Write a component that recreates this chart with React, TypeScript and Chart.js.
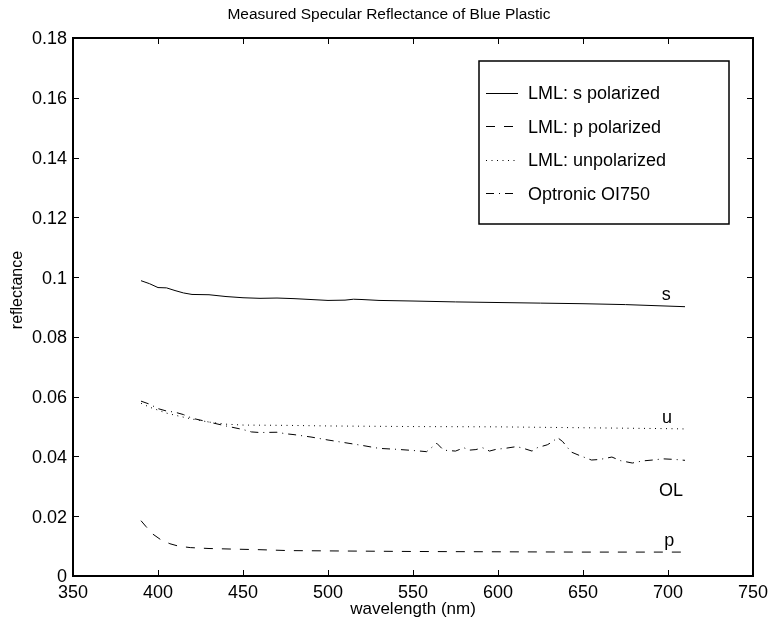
import React, { useEffect, useRef } from "react";
import { Chart, registerables } from "chart.js";

Chart.register(...registerables);

const TITLE = "Measured Specular Reflectance of Blue Plastic";
const X_LABEL = "wavelength (nm)";
const Y_LABEL = "reflectance";

const X_TICKS = [350, 400, 450, 500, 550, 600, 650, 700, 750];
const X_TICK_LABELS = ["350", "400", "450", "500", "550", "600", "650", "700", "750"];
const Y_TICKS = [0, 0.02, 0.04, 0.06, 0.08, 0.1, 0.12, 0.14, 0.16, 0.18];
const Y_TICK_LABELS = ["0", "0.02", "0.04", "0.06", "0.08", "0.1", "0.12", "0.14", "0.16", "0.18"];

const SERIES_LABELS = ["LML: s polarized", "LML: p polarized", "LML: unpolarized", "Optronic OI750"];

// s polarized
const S_WL = [390, 395, 400, 405, 410, 415, 420, 430, 440, 450, 460, 470, 480, 490, 500, 510, 515, 520, 530, 550, 575, 600, 625, 650, 675, 700, 710];
const S_VAL = [0.0988, 0.0978, 0.0965, 0.0964, 0.0955, 0.0947, 0.0942, 0.0941, 0.0935, 0.0931, 0.0929, 0.093, 0.0928, 0.0925, 0.0922, 0.0923, 0.0926, 0.0925, 0.0922, 0.092, 0.0917, 0.0915, 0.0913, 0.0911, 0.0908, 0.0903, 0.0901];

// p polarized
const P_WL = [390, 393, 397, 402, 407, 412, 419, 430, 444, 460, 477, 500, 550, 600, 650, 710];
const P_VAL = [0.0185, 0.0165, 0.014, 0.012, 0.0108, 0.01, 0.0095, 0.0092, 0.009, 0.0088, 0.0085, 0.0084, 0.0082, 0.0081, 0.008, 0.008];

// unpolarized
const U_WL = [390, 395, 400, 405, 410, 420, 430, 440, 450, 475, 500, 550, 600, 650, 700, 710];
const U_VAL = [0.0578, 0.0565, 0.0555, 0.0545, 0.0538, 0.0525, 0.0515, 0.0508, 0.0505, 0.0504, 0.0502, 0.05, 0.0499, 0.0496, 0.0493, 0.0492];

// Optronic OL750
const OL_WL = [390, 395, 400, 405, 410, 415, 420, 430, 440, 450, 455, 460, 470, 475, 480, 490, 500, 510, 520, 530, 540, 550, 558, 564, 568, 575, 580, 583, 587, 591, 595, 599, 604, 611, 615, 620, 623, 629, 632, 635, 638, 643, 648, 655, 660, 667, 672, 679, 685, 691, 697, 704, 710];
const OL_VAL = [0.0585, 0.0575, 0.056, 0.0552, 0.0548, 0.054, 0.0528, 0.0515, 0.0502, 0.049, 0.0482, 0.048, 0.0481, 0.0476, 0.0473, 0.0465, 0.0455, 0.0446, 0.0437, 0.0427, 0.0424, 0.042, 0.0416, 0.0444, 0.0421, 0.0418, 0.0429, 0.0421, 0.0423, 0.0429, 0.0418, 0.0424, 0.0427, 0.0433, 0.0427, 0.0418, 0.0429, 0.0439, 0.0449, 0.0463, 0.045, 0.0415, 0.0403, 0.0388, 0.039, 0.0398, 0.0386, 0.0378, 0.0385, 0.0388, 0.0392, 0.039, 0.0387];

// curve annotations (data coords of text baseline centre)
const CURVE_LABELS = ["s", "u", "OL", "p"];
const CURVE_LABEL_X = [699, 699.4, 701.7, 700.8];
const CURVE_LABEL_Y = [0.0923, 0.0513, 0.0266, 0.01];

const FONT = '"Liberation Sans", Arial, Helvetica, sans-serif';

const pts = (xs: number[], ys: number[]) => xs.map((x, i) => ({ x, y: ys[i] }));

const decorPlugin = {
  id: "decor",
  afterDraw(chart: any) {
    const { ctx, chartArea: a, scales } = chart;
    const x = scales.x;
    const y = scales.y;
    ctx.save();
    ctx.strokeStyle = "#000";
    ctx.fillStyle = "#000";
    ctx.setLineDash([]);
    ctx.lineWidth = 1;
    const line = (x1: number, y1: number, x2: number, y2: number) => {
      ctx.beginPath();
      ctx.moveTo(x1, y1);
      ctx.lineTo(x2, y2);
      ctx.stroke();
    };
    const TL = 6;
    X_TICKS.forEach((v) => {
      const px = Math.round(x.getPixelForValue(v)) + 0.5;
      line(px, a.bottom, px, a.bottom - TL);
      line(px, a.top, px, a.top + TL);
    });
    Y_TICKS.forEach((v) => {
      const py = Math.round(y.getPixelForValue(v)) + 0.5;
      line(a.left, py, a.left + TL, py);
      line(a.right, py, a.right - TL, py);
    });
    // frame
    ctx.lineWidth = 2;
    ctx.strokeRect(a.left, a.top, a.right - a.left, a.bottom - a.top);

    // tick labels
    ctx.font = `18px ${FONT}`;
    ctx.textBaseline = "alphabetic";
    ctx.textAlign = "center";
    X_TICKS.forEach((v, i) => {
      ctx.fillText(X_TICK_LABELS[i], x.getPixelForValue(v), a.bottom + 22);
    });
    ctx.textAlign = "right";
    Y_TICKS.forEach((v, i) => {
      ctx.fillText(Y_TICK_LABELS[i], a.left - 6, y.getPixelForValue(v) + 6.4);
    });

    // title and axis labels
    ctx.textAlign = "center";
    ctx.font = `15.5px ${FONT}`;
    ctx.fillText(TITLE, 389, 19);
    ctx.font = `17px ${FONT}`;
    ctx.fillText(X_LABEL, (a.left + a.right) / 2, 614);
    ctx.save();
    ctx.font = `16px ${FONT}`;
    ctx.translate(18, 290);
    ctx.rotate(-Math.PI / 2);
    ctx.textBaseline = "middle";
    ctx.fillText(Y_LABEL, 0, 0);
    ctx.restore();

    // curve annotations
    ctx.font = `18px ${FONT}`;
    ctx.textAlign = "center";
    ctx.textBaseline = "alphabetic";
    CURVE_LABELS.forEach((t, i) => {
      ctx.fillText(t, x.getPixelForValue(CURVE_LABEL_X[i]), y.getPixelForValue(CURVE_LABEL_Y[i]));
    });

    // legend
    const bl = a.right - 274;
    const br = a.right - 24;
    const bt = a.top + 23;
    const bb = a.top + 186;
    ctx.fillStyle = "#fff";
    ctx.fillRect(bl, bt, br - bl, bb - bt);
    ctx.lineWidth = 1.5;
    ctx.strokeStyle = "#000";
    ctx.strokeRect(bl, bt, br - bl, bb - bt);
    ctx.fillStyle = "#000";
    ctx.textAlign = "left";
    chart.data.datasets.forEach((ds: any, i: number) => {
      const ry = bt + 32 + i * 33.4;
      ctx.lineWidth = 1;
      ctx.setLineDash(ds.borderDash || []);
      ctx.beginPath();
      ctx.moveTo(bl + 7, Math.round(ry) + 0.5);
      ctx.lineTo(bl + 39, Math.round(ry) + 0.5);
      ctx.stroke();
      ctx.setLineDash([]);
      ctx.fillText(ds.label, bl + 49, ry + 6.4);
    });
    ctx.restore();
  },
};

export default function App() {
  const ref = useRef<HTMLCanvasElement | null>(null);
  useEffect(() => {
    if (!ref.current) return;
    const common = { borderColor: "#000", borderWidth: 1, pointRadius: 0, tension: 0, fill: false };
    const chart = new Chart(ref.current, {
      type: "line",
      data: {
        datasets: [
          { ...common, label: SERIES_LABELS[0], data: pts(S_WL, S_VAL), borderDash: [] },
          { ...common, label: SERIES_LABELS[1], data: pts(P_WL, P_VAL), borderDash: [9, 9] },
          { ...common, label: SERIES_LABELS[2], data: pts(U_WL, U_VAL), borderDash: [1, 4.5] },
          { ...common, label: SERIES_LABELS[3], data: pts(OL_WL, OL_VAL), borderDash: [8, 5, 1, 5] },
        ],
      },
      options: {
        responsive: false,
        animation: false,
        layout: { padding: { left: 73, right: 20, top: 38, bottom: 50 } },
        plugins: { legend: { display: false }, title: { display: false }, tooltip: { enabled: false } },
        scales: {
          x: { type: "linear", display: false, min: 350, max: 750 },
          y: { type: "linear", display: false, min: 0, max: 0.18 },
        },
      },
      plugins: [decorPlugin],
    });
    return () => chart.destroy();
  }, []);
  return (
    <div style={{ position: "fixed", left: 0, top: 0, width: 773, height: 626, background: "#fff" }}>
      <canvas ref={ref} width={773} height={626} style={{ width: 773, height: 626, display: "block" }} />
    </div>
  );
}
